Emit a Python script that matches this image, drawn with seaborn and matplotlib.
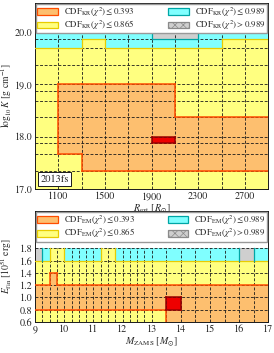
import numpy as np
import matplotlib
matplotlib.use('Agg')
import matplotlib.pyplot as plt
import seaborn as sns
from matplotlib.patches import Patch
from matplotlib.colors import ListedColormap, BoundaryNorm

sns.set_theme(style='ticks')
plt.rcParams['font.family'] = ['STIXGeneral', 'DejaVu Serif']
plt.rcParams['mathtext.fontset'] = 'stix'
plt.rcParams['hatch.color'] = '#5e5e5e'
plt.rcParams['hatch.linewidth'] = 0.5

# grid cell edges
r_edges = [900, 1100, 1300, 1500, 1700, 1900, 2100, 2300, 2500, 2700, 2900]
logk_edges = [17.0, 17.35, 17.67, 17.875, 18.0, 18.38, 18.69, 18.875,
              19.0, 19.37, 19.69, 19.875, 20.0]
m_edges = [9.0, 9.25, 9.5, 9.75, 10.0, 10.25, 10.5, 10.75, 11.0, 11.25, 11.5,
           11.75, 12.0, 12.25, 12.5, 12.75, 13.0, 13.5, 14.0, 14.5, 15.0,
           15.5, 16.0, 16.5, 17.0]
e_edges = [0.6, 0.8, 1.0, 1.2, 1.4, 1.6, 1.8]

# 0 = best fit, 1 = CDF<=0.393, 2 = <=0.865, 3 = <=0.989, 4 = >0.989
# rows from bottom to top
kr_levels = [
    [2, 2, 2, 2, 2, 2, 2, 2, 2, 2],
    [2, 2, 1, 1, 1, 1, 1, 1, 1, 1],
    [2, 1, 1, 1, 1, 1, 1, 1, 1, 1],
    [2, 1, 1, 1, 1, 0, 1, 1, 1, 1],
    [2, 1, 1, 1, 1, 1, 1, 1, 1, 1],
    [2, 1, 1, 1, 1, 1, 2, 2, 2, 2],
    [2, 1, 1, 1, 1, 1, 2, 2, 2, 2],
    [2, 1, 1, 1, 1, 1, 2, 2, 2, 2],
    [2, 2, 2, 2, 2, 2, 2, 2, 2, 2],
    [2, 2, 2, 2, 2, 2, 2, 2, 2, 2],
    [3, 3, 2, 3, 3, 3, 3, 3, 2, 2],
    [3, 3, 3, 3, 3, 4, 4, 3, 3, 3],
]
em_levels = [
    [2] * 17 + [1] * 7,
    [1] * 17 + [0] + [1] * 6,
    [1] * 24,
    [2, 2, 1] + [2] * 21,
    [2] * 24,
    [4, 3, 2, 2, 3, 3, 3, 3, 3, 2, 2] + [3] * 11 + [4, 3],
]

kr_labels = [r'CDF$_{\rm KR}(\chi^2) \leq 0.393$', r'CDF$_{\rm KR}(\chi^2) \leq 0.865$',
             r'CDF$_{\rm KR}(\chi^2) \leq 0.989$', r'CDF$_{\rm KR}(\chi^2) > 0.989$']
em_labels = [r'CDF$_{\rm EM}(\chi^2) \leq 0.393$', r'CDF$_{\rm EM}(\chi^2) \leq 0.865$',
             r'CDF$_{\rm EM}(\chi^2) \leq 0.989$', r'CDF$_{\rm EM}(\chi^2) > 0.989$']

fill_colors = ['#ee0000', '#fdbf6f', '#ffff80', '#80ffff', '#cfcfcf']
line_colors = ['#9a0000', '#ff4d00', '#e8cc00', '#00a6a6', '#8a8a8a']


def draw_panel(ax, xe, ye, levels):
    lev = np.array(levels)
    xe = np.array(xe)
    ye = np.array(ye)
    cmap = ListedColormap(fill_colors)
    norm = BoundaryNorm(np.arange(-0.5, 5.5, 1), 5)
    ax.pcolormesh(xe, ye, lev, cmap=cmap, norm=norm, linewidth=0, zorder=1)
    # hatched cells
    for i, j in zip(*np.where(lev == 4)):
        ax.bar(xe[j], ye[i + 1] - ye[i], width=xe[j + 1] - xe[j], bottom=ye[i],
               align='edge', facecolor='none', edgecolor='none', hatch='xxxx',
               linewidth=0, zorder=1.5)
    # grid dashes
    ax.vlines(xe[1:-1], ye[0], ye[-1], colors='k', linestyles=(0, (3.5, 2)),
              linewidth=0.6, zorder=2)
    ax.hlines(ye[1:], xe[0], xe[-1], colors='k', linestyles=(0, (3.5, 2)),
              linewidth=0.6, zorder=2)
    # region boundaries
    nr, nc = lev.shape
    for i in range(nr):
        for j in range(nc):
            if j + 1 < nc and lev[i, j] != lev[i, j + 1]:
                k = min(lev[i, j], lev[i, j + 1])
                ax.plot([xe[j + 1]] * 2, [ye[i], ye[i + 1]], color=line_colors[k],
                        lw=1.1 if k < 2 else 0.9, solid_capstyle='projecting', zorder=3 + (k == 0))
            if i + 1 < nr and lev[i, j] != lev[i + 1, j]:
                k = min(lev[i, j], lev[i + 1, j])
                ax.plot([xe[j], xe[j + 1]], [ye[i + 1]] * 2, color=line_colors[k],
                        lw=1.1 if k < 2 else 0.9, solid_capstyle='projecting', zorder=3 + (k == 0))
    ax.set_xlim(xe[0], xe[-1])


def add_legend(ax, labels):
    handles = []
    for k in range(4):
        handles.append(Patch(facecolor=fill_colors[k + 1], edgecolor=line_colors[k + 1],
                             linewidth=0.9, hatch='xxxx' if k == 3 else None,
                             label=labels[k]))
    ax.legend(handles=handles, ncol=2, loc='upper left', bbox_to_anchor=(0, 1, 1, 0),
              mode='expand', borderaxespad=0.12, fontsize=6.4, handlelength=2.3,
              handleheight=0.8, handletextpad=0.7, columnspacing=1.0, labelspacing=0.0,
              fancybox=False, edgecolor='#999999', framealpha=1, borderpad=0.15)


fig = plt.figure(figsize=(2.74, 3.53), dpi=100)
ax1 = fig.add_axes([0.128, 0.465, 0.851, 0.527])
ax2 = fig.add_axes([0.128, 0.088, 0.851, 0.314])

draw_panel(ax1, r_edges, logk_edges, kr_levels)
ax1.set_ylim(17.0, 20.56)
ax1.set_xticks([1100, 1500, 1900, 2300, 2700])
ax1.set_yticks([17.0, 18.0, 19.0, 20.0])
ax1.set_yticklabels(['17.0', '18.0', '19.0', '20.0'])
ax1.set_xlabel(r'$R_{\rm ext}$ [$R_{\odot}$]', fontsize=7.2, labelpad=1)
ax1.set_ylabel(r'$\log_{10} K$ [g cm$^{-1}$]', fontsize=6.9)
add_legend(ax1, kr_labels)
ax1.text(0.022, 0.025, '2013fs', transform=ax1.transAxes, fontsize=7.5,
         ha='left', va='bottom', zorder=6,
         bbox=dict(boxstyle='square,pad=0.2', facecolor='white', edgecolor='k', linewidth=0.7))

draw_panel(ax2, m_edges, e_edges, em_levels)
ax2.set_ylim(0.6, 2.41)
ax2.set_xticks(range(9, 18))
ax2.set_yticks([0.6, 0.8, 1.0, 1.2, 1.4, 1.6, 1.8])
ax2.set_yticklabels(['0.6', '0.8', '1.0', '1.2', '1.4', '1.6', '1.8'])
ax2.set_xlabel(r'$M_{\rm ZAMS}$ [$M_{\odot}$]', fontsize=7.2, labelpad=1)
ax2.set_ylabel(r'$E_{\rm fin}$ [$10^{51}$ erg]', fontsize=6.9)
add_legend(ax2, em_labels)

for ax in (ax1, ax2):
    ax.yaxis.set_label_coords(-0.09, 0.5)
    ax.tick_params(direction='in', labelsize=7.3, length=2.5, width=0.6, pad=2,
                   top=True, right=True)
    for s in ax.spines.values():
        s.set_linewidth(0.7)
        s.set_color('k')

fig.savefig('out.png', dpi=100)
